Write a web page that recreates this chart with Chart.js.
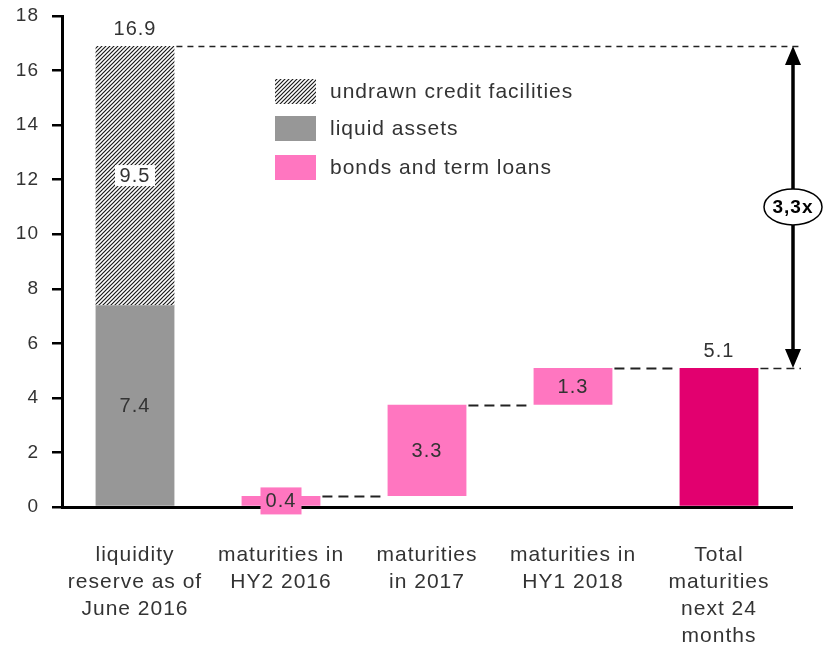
<!DOCTYPE html>
<html>
<head>
<meta charset="utf-8">
<script src="https://cdn.jsdelivr.net/npm/chart.js@4.4.1/dist/chart.umd.min.js"></script>
<style>
  html, body { margin: 0; padding: 0; background: #fff; }
  #wrap { width: 823px; height: 649px; }
</style>
</head>
<body>
<div id="wrap"><canvas id="liquidity-chart" width="823" height="649"></canvas></div>
<script>
// values
const categories = [
  ["liquidity", "reserve as of", "June 2016"],
  ["maturities in", "HY2 2016"],
  ["maturities", "in 2017"],
  ["maturities in", "HY1 2018"],
  ["Total", "maturities", "next 24", "months"]
];
const liquidAssets = [7.4, null, null, null, null];
const undrawnCredit = [9.5, null, null, null, null];
const bondsFrom = [null, 0, 0.4, 3.75, null];
const bondsTo = [null, 0.4, 3.75, 5.1, null];
const bondsLabels = [null, "0.4", "3.3", "1.3", null];
const totalMaturities = [null, null, null, null, 5.1];
const reserveTotal = 16.9;
const coverageLabel = "3,3x";
const yMax = 18;
const yStep = 2;

const FONT = "'Liberation Sans', Arial, sans-serif";
const GREY = "#979797";
const PINK = "#ff76c0";
const MAGENTA = "#e2006f";
const TEXT = "#333";

document.addEventListener("DOMContentLoaded", () => {
  const canvas = document.getElementById("liquidity-chart");
  const ctx = canvas.getContext("2d");

  // diagonal hatch for the undrawn facilities
  const tile = document.createElement("canvas");
  tile.width = 4; tile.height = 4;
  const t = tile.getContext("2d");
  t.fillStyle = "#fff";
  t.fillRect(0, 0, 4, 4);
  t.strokeStyle = "#1a1a1a";
  t.lineWidth = 1.2;
  t.beginPath();
  t.moveTo(0, 4); t.lineTo(4, 0);
  t.moveTo(-1, 1); t.lineTo(1, -1);
  t.moveTo(3, 5); t.lineTo(5, 3);
  t.stroke();
  const hatch = ctx.createPattern(tile, "repeat");

  const overlay = {
    id: "overlay",
    beforeDraw(chart) {
      // the reference type is set a bit loose
      chart.ctx.letterSpacing = "1px";
    },
    afterDraw(chart) {
      const c = chart.ctx;
      const ys = chart.scales.y;
      const bar = (ds, i) => chart.getDatasetMeta(ds).data[i];
      const left = b => b.x - b.width / 2;
      const right = b => b.x + b.width / 2;
      const arrowX = chart.chartArea.right + 1;

      c.save();
      // dashed connectors
      c.strokeStyle = "#222";
      const dash = (x1, x2, v, pattern, lw) => {
        const py = Math.round(ys.getPixelForValue(v)) + 0.5;
        c.setLineDash(pattern);
        c.lineWidth = lw;
        c.beginPath(); c.moveTo(x1, py); c.lineTo(x2, py); c.stroke();
      };
      dash(right(bar(1, 0)) + 2, arrowX + 8, reserveTotal, [6, 5], 1.5);
      for (let i = 1; i <= 3; i++) {
        const next = i < 3 ? bar(2, i + 1) : bar(3, 4);
        dash(right(bar(2, i)) + 2, left(next) - 2, bondsTo[i], [10, 6], 2);
      }
      dash(right(bar(3, 4)) + 2, arrowX + 8, totalMaturities[4], [8, 5], 1.5);
      c.setLineDash([]);

      // double arrow
      const yTop = ys.getPixelForValue(reserveTotal);
      const yBot = ys.getPixelForValue(totalMaturities[4]);
      c.strokeStyle = "#000";
      c.fillStyle = "#000";
      c.lineWidth = 3.5;
      c.beginPath(); c.moveTo(arrowX, yTop + 14); c.lineTo(arrowX, yBot - 14); c.stroke();
      c.beginPath();
      c.moveTo(arrowX, yTop); c.lineTo(arrowX - 8, yTop + 19); c.lineTo(arrowX + 8, yTop + 19); c.closePath();
      c.moveTo(arrowX, yBot); c.lineTo(arrowX - 8, yBot - 19); c.lineTo(arrowX + 8, yBot - 19); c.closePath();
      c.fill();

      const midY = (yTop + yBot) / 2;
      c.beginPath();
      c.ellipse(arrowX, midY, 29, 18, 0, 0, Math.PI * 2);
      c.fillStyle = "#fff"; c.fill();
      c.lineWidth = 1.5; c.stroke();
      c.fillStyle = "#000";
      c.font = "bold 19px " + FONT;
      c.textAlign = "center"; c.textBaseline = "middle";
      c.fillText(coverageLabel, arrowX, midY + 1);

      // value labels
      c.font = "20px " + FONT;
      const label = (txt, x, y, bg, w, h) => {
        if (bg) { c.fillStyle = bg; c.fillRect(x - w / 2, y - h / 2, w, h); }
        c.fillStyle = TEXT;
        c.fillText(txt, x, y + 1);
      };
      const b0 = bar(0, 0), b1 = bar(1, 0);
      label(reserveTotal.toFixed(1), b1.x, b1.y - 18);
      label(undrawnCredit[0].toFixed(1), b1.x, (b1.y + b1.base) / 2, "#fff", 40, 21);
      label(liquidAssets[0].toFixed(1), b0.x, (b0.y + b0.base) / 2);
      for (let i = 1; i <= 3; i++) {
        const b = bar(2, i);
        const mid = (b.y + b.base) / 2;
        if (i === 1) label(bondsLabels[i], b.x, mid, PINK, 41, 27);
        else label(bondsLabels[i], b.x, mid);
      }
      const bt = bar(3, 4);
      label(totalMaturities[4].toFixed(1), bt.x, bt.y - 17);

      // legend
      const items = [1, 0, 2].map(i => chart.data.datasets[i]);
      const rows = [91, 128, 167];
      c.font = "21px " + FONT;
      c.textAlign = "left";
      items.forEach((ds, k) => {
        c.fillStyle = ds.backgroundColor;
        c.fillRect(275, rows[k] - 12, 41, 25);
        c.fillStyle = TEXT;
        c.fillText(ds.label, 330, rows[k] + 1);
      });
      c.restore();
      c.letterSpacing = "0px";
    }
  };

  new Chart(ctx, {
    type: "bar",
    data: {
      labels: categories,
      datasets: [
        {
          label: "liquid assets",
          data: liquidAssets.map(v => v == null ? null : [0, v]),
          backgroundColor: GREY
        },
        {
          label: "undrawn credit facilities",
          data: undrawnCredit.map((v, i) => v == null ? null : [liquidAssets[i], liquidAssets[i] + v]),
          backgroundColor: hatch
        },
        {
          label: "bonds and term loans",
          data: bondsFrom.map((v, i) => v == null ? null : [v, bondsTo[i]]),
          backgroundColor: PINK
        },
        {
          label: "total maturities",
          data: totalMaturities.map(v => v == null ? null : [0, v]),
          backgroundColor: MAGENTA
        }
      ]
    },
    options: {
      responsive: false,
      animation: false,
      layout: { padding: { top: 16, right: 31, bottom: 0, left: 0 } },
      datasets: { bar: { grouped: false, barPercentage: 0.54, categoryPercentage: 1 } },
      plugins: { legend: { display: false }, tooltip: { enabled: false } },
      scales: {
        x: {
          z: 1,
          grid: { display: false, drawTicks: false },
          border: { display: true, color: "#000", width: 3 },
          ticks: {
            color: TEXT,
            font: { family: FONT, size: 21, lineHeight: 27 / 21 },
            padding: 35,
            maxRotation: 0,
            autoSkip: false
          },
          afterFit: s => { s.height = 142; }
        },
        y: {
          min: 0,
          max: yMax,
          grid: { drawOnChartArea: false, drawTicks: true, tickLength: 10, color: "#000", lineWidth: 2.5 },
          border: { display: true, color: "#000", width: 3 },
          ticks: {
            stepSize: yStep,
            color: TEXT,
            font: { family: FONT, size: 19 },
            padding: 13
          },
          afterFit: s => { s.width = 62; s.paddingTop = 0; s.paddingBottom = 0; }
        }
      }
    },
    plugins: [overlay]
  });
});
</script>
</body>
</html>
